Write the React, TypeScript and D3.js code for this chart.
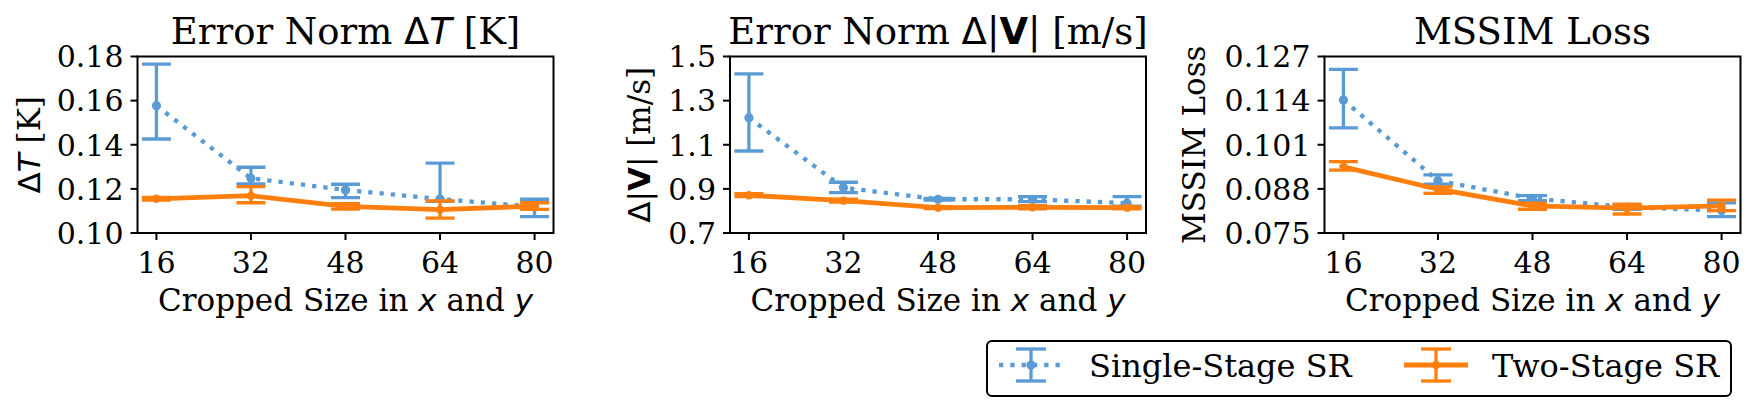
import React from "react";
import * as d3 from "d3";

// cropped sizes (x axis)
const sizes = [16, 32, 48, 64, 80];

// Error Norm dT [K]
const singleT = [0.1577, 0.1248, 0.1195, 0.1154, 0.1119];
const singleTLo = [0.1426, 0.1222, 0.116, 0.1143, 0.1074];
const singleTHi = [0.1765, 0.1298, 0.1221, 0.1317, 0.1153];
const twoT = [0.1155, 0.1169, 0.1121, 0.1106, 0.1122];
const twoTLo = [0.1149, 0.1137, 0.1108, 0.1067, 0.1107];
const twoTHi = [0.1161, 0.121, 0.1133, 0.1146, 0.1137];

// Error Norm d|V| [m/s]
const singleV = [1.2227, 0.9054, 0.8529, 0.853, 0.835];
const singleVLo = [1.0717, 0.8827, 0.849, 0.842, 0.822];
const singleVHi = [1.4208, 0.93, 0.857, 0.865, 0.865];
const twoV = [0.871, 0.8466, 0.8148, 0.8165, 0.8148];
const twoVLo = [0.865, 0.84, 0.811, 0.81, 0.809];
const twoVHi = [0.878, 0.853, 0.819, 0.824, 0.82];

// MSSIM loss
const singleM = [0.1142, 0.0904, 0.0852, 0.0826, 0.0816];
const singleMLo = [0.106, 0.0894, 0.0845, 0.082, 0.0798];
const singleMHi = [0.1232, 0.0921, 0.086, 0.0832, 0.0839];
const twoM = [0.0945, 0.0879, 0.083, 0.0823, 0.083];
const twoMLo = [0.0935, 0.0867, 0.082, 0.0806, 0.0816];
const twoMHi = [0.096, 0.0886, 0.0838, 0.0835, 0.0847];

// y ticks
const ticksT = ["0.10", "0.12", "0.14", "0.16", "0.18"];
const ticksV = ["0.7", "0.9", "1.1", "1.3", "1.5"];
const ticksM = ["0.075", "0.088", "0.101", "0.114", "0.127"];

const seriesNames = ["Single-Stage SR", "Two-Stage SR"];

const BLUE = "#5b9bd5";
const ORANGE = "#ff7f0e";
const SERIF = "DejaVu Serif";
const SANS = "DejaVu Sans";

const W = 1757;
const H = 411;
const top = 56.5;
const bottom = 233;
const axW = 416;
const lefts = [137.5, 730, 1324.5];

type Series = { v: number[]; lo: number[]; hi: number[] };

const panels = [
  {
    id: "t",
    ticks: ticksT,
    single: { v: singleT, lo: singleTLo, hi: singleTHi },
    two: { v: twoT, lo: twoTLo, hi: twoTHi },
    title: (
      <>
        <tspan>Error Norm </tspan>
        <tspan fontFamily={SANS}>Δ</tspan>
        <tspan fontFamily={SANS} fontStyle="italic">T</tspan>
        <tspan> [K]</tspan>
      </>
    ),
    ylabel: (
      <>
        <tspan fontFamily={SANS}>Δ</tspan>
        <tspan fontFamily={SANS} fontStyle="italic">T</tspan>
        <tspan> [K]</tspan>
      </>
    ),
    ylabelX: 40,
  },
  {
    id: "v",
    ticks: ticksV,
    single: { v: singleV, lo: singleVLo, hi: singleVHi },
    two: { v: twoV, lo: twoVLo, hi: twoVHi },
    title: (
      <>
        <tspan>Error Norm </tspan>
        <tspan fontFamily={SANS}>Δ|</tspan>
        <tspan fontFamily={SANS} fontWeight="bold">V</tspan>
        <tspan fontFamily={SANS}>|</tspan>
        <tspan> [m/s]</tspan>
      </>
    ),
    ylabel: (
      <>
        <tspan fontFamily={SANS}>Δ|</tspan>
        <tspan fontFamily={SANS} fontWeight="bold">V</tspan>
        <tspan fontFamily={SANS}>|</tspan>
        <tspan> [m/s]</tspan>
      </>
    ),
    ylabelX: 650,
  },
  {
    id: "m",
    ticks: ticksM,
    single: { v: singleM, lo: singleMLo, hi: singleMHi },
    two: { v: twoM, lo: twoMLo, hi: twoMHi },
    title: <tspan>MSSIM Loss</tspan>,
    ylabel: <tspan>MSSIM Loss</tspan>,
    ylabelX: 1205,
  },
];

function ErrSeries({
  s,
  x,
  y,
  color,
  dotted,
}: {
  s: Series;
  x: d3.ScaleLinear<number, number>;
  y: d3.ScaleLinear<number, number>;
  color: string;
  dotted: boolean;
}) {
  const line = d3
    .line<number>()
    .x((_, i) => x(sizes[i]))
    .y((d) => y(d));
  const cap = 14.5;
  return (
    <g>
      <path
        d={line(s.v) ?? ""}
        fill="none"
        stroke={color}
        strokeWidth={dotted ? 4.3 : 4.8}
        strokeDasharray={dotted ? "4.3 7" : undefined}
      />
      {sizes.map((sz, i) => {
        const cx = x(sz);
        return (
          <g key={sz} stroke={color} strokeWidth={3.3}>
            <line x1={cx} x2={cx} y1={y(s.lo[i])} y2={y(s.hi[i])} />
            <line x1={cx - cap} x2={cx + cap} y1={y(s.lo[i])} y2={y(s.lo[i])} />
            <line x1={cx - cap} x2={cx + cap} y1={y(s.hi[i])} y2={y(s.hi[i])} />
            <circle cx={cx} cy={y(s.v[i])} r={dotted ? 4.6 : 4.2} fill={color} stroke="none" />
          </g>
        );
      })}
    </g>
  );
}

function Panel({ p, left }: { p: (typeof panels)[number]; left: number }) {
  const x = d3.scaleLinear().domain([12.8, 83.2]).range([left, left + axW]);
  const tv = p.ticks.map(Number);
  const y = d3
    .scaleLinear()
    .domain([tv[0], tv[tv.length - 1]])
    .range([bottom, top]);
  const cx = left + axW / 2;
  const cy = (top + bottom) / 2;
  return (
    <g>
      <defs>
        <clipPath id={`clip-${p.id}`}>
          <rect x={left} y={top} width={axW} height={bottom - top} />
        </clipPath>
      </defs>
      <g clipPath={`url(#clip-${p.id})`}>
        <ErrSeries s={p.single} x={x} y={y} color={BLUE} dotted />
        <ErrSeries s={p.two} x={x} y={y} color={ORANGE} dotted={false} />
      </g>
      <rect x={left} y={top} width={axW} height={bottom - top} fill="none" stroke="#000" strokeWidth={2} />
      {/* y ticks */}
      {p.ticks.map((t, i) => (
        <g key={t}>
          <line x1={left - 7} x2={left} y1={y(tv[i])} y2={y(tv[i])} stroke="#000" strokeWidth={2} />
          <text
            x={left - 14}
            y={y(tv[i])}
            dy="0.36em"
            textAnchor="end"
            fontFamily={SERIF}
            fontSize={30}
          >
            {t}
          </text>
        </g>
      ))}
      {/* x ticks */}
      {sizes.map((s) => (
        <g key={s}>
          <line x1={x(s)} x2={x(s)} y1={bottom} y2={bottom + 7} stroke="#000" strokeWidth={2} />
          <text x={x(s)} y={bottom + 40} textAnchor="middle" fontFamily={SERIF} fontSize={30}>
            {s}
          </text>
        </g>
      ))}
      <text x={cx} y={44} textAnchor="middle" fontFamily={SERIF} fontSize={37}>
        {p.title}
      </text>
      <text x={cx} y={311} textAnchor="middle" fontFamily={SERIF} fontSize={31}>
        <tspan>Cropped Size in </tspan>
        <tspan fontFamily={SANS} fontStyle="italic">x</tspan>
        <tspan> and </tspan>
        <tspan fontFamily={SANS} fontStyle="italic">y</tspan>
      </text>
      <text
        transform={`translate(${p.ylabelX},${cy}) rotate(-90)`}
        textAnchor="middle"
        fontFamily={SERIF}
        fontSize={31}
      >
        {p.ylabel}
      </text>
    </g>
  );
}

function LegendHandle({ x0, color, dotted }: { x0: number; color: string; dotted: boolean }) {
  const yc = 365;
  const len = 64;
  const mid = x0 + len / 2;
  return (
    <g stroke={color}>
      <line
        x1={x0}
        x2={x0 + len}
        y1={yc}
        y2={yc}
        strokeWidth={dotted ? 4.3 : 4.8}
        strokeDasharray={dotted ? "4.3 7" : undefined}
      />
      <line x1={mid} x2={mid} y1={yc - 16} y2={yc + 16} strokeWidth={3.3} />
      <line x1={mid - 15} x2={mid + 15} y1={yc - 16} y2={yc - 16} strokeWidth={3.3} />
      <line x1={mid - 15} x2={mid + 15} y1={yc + 16} y2={yc + 16} strokeWidth={3.3} />
      <circle cx={mid} cy={yc} r={dotted ? 4.6 : 4.2} fill={color} stroke="none" />
    </g>
  );
}

export default function App() {
  return (
    <svg
      width={W}
      height={H}
      viewBox={`0 0 ${W} ${H}`}
      style={{ position: "absolute", left: 0, top: 0, background: "#fff" }}
    >
      <rect width={W} height={H} fill="#fff" />
      {panels.map((p, i) => (
        <Panel key={p.id} p={p} left={lefts[i]} />
      ))}
      {/* legend */}
      <rect x={987} y={341} width={744} height={55} rx={5} fill="#fff" stroke="#000" strokeWidth={2} />
      <LegendHandle x0={999} color={BLUE} dotted />
      <text x={1089} y={376.5} fontFamily={SERIF} fontSize={32}>
        {seriesNames[0]}
      </text>
      <LegendHandle x0={1404} color={ORANGE} dotted={false} />
      <text x={1492} y={376.5} fontFamily={SERIF} fontSize={32}>
        {seriesNames[1]}
      </text>
    </svg>
  );
}
